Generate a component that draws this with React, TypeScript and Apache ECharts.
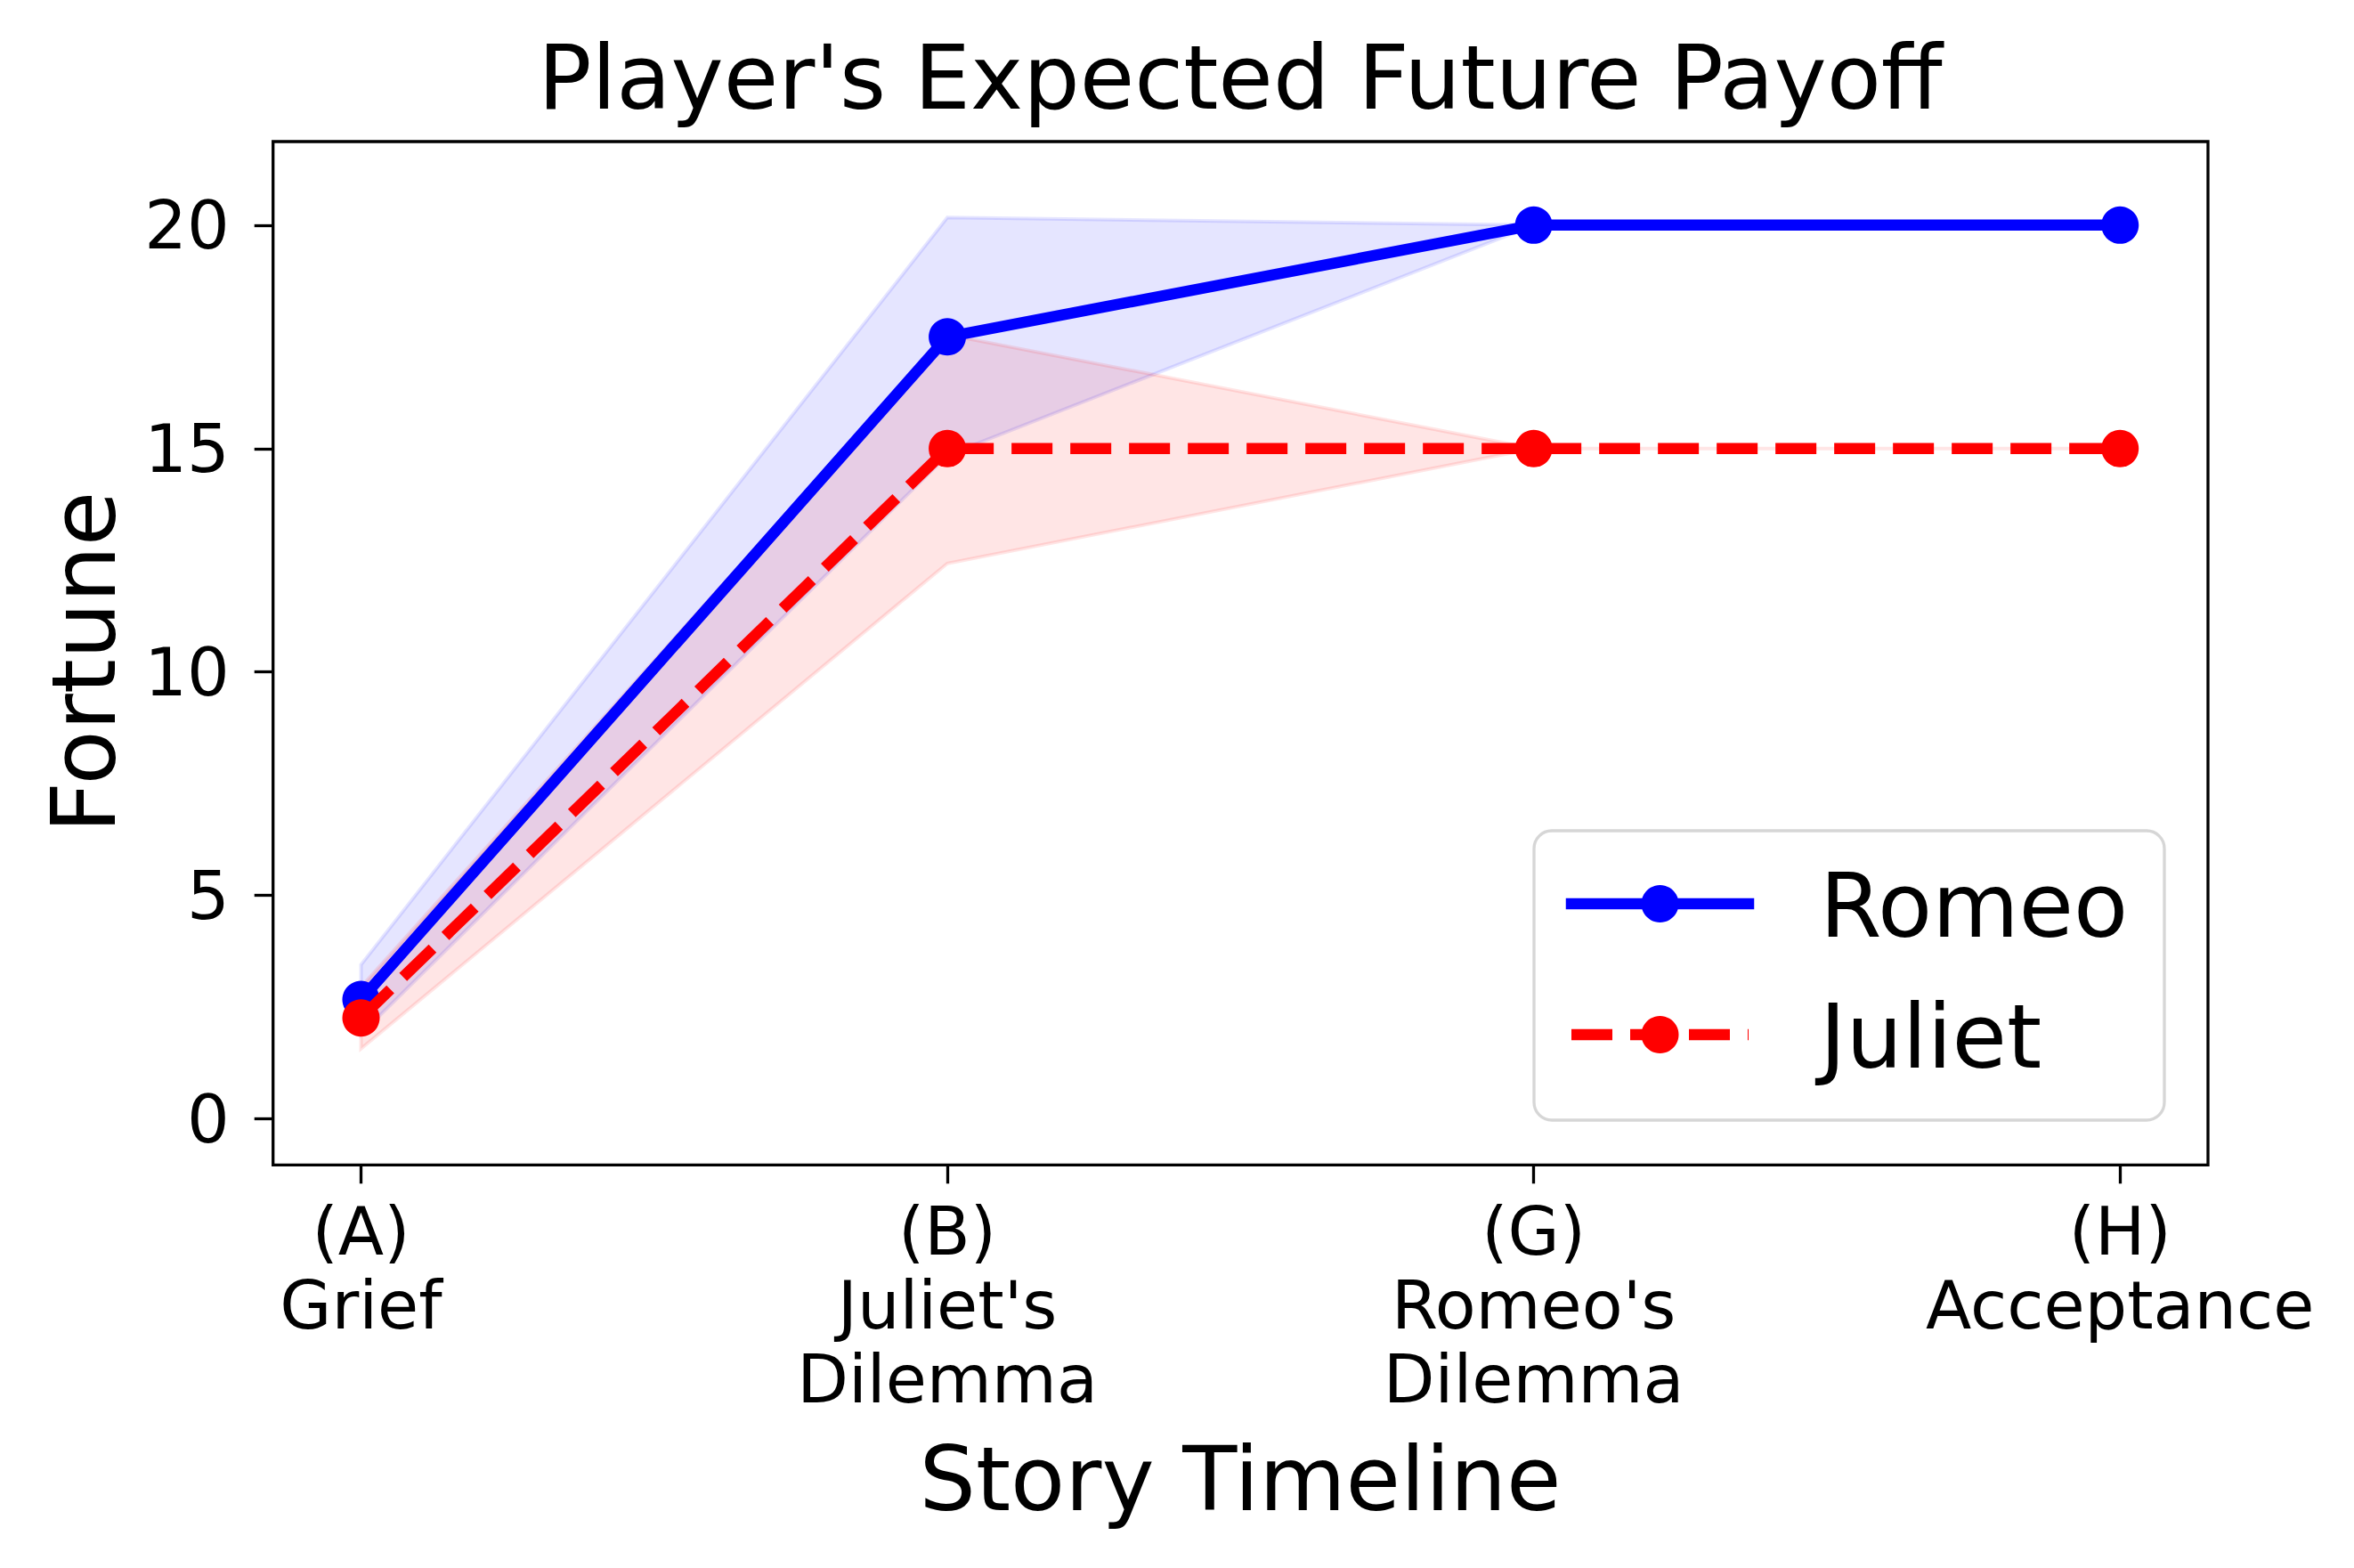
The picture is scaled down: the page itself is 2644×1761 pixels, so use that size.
import React, { useEffect, useRef } from "react";
import * as echarts from "echarts";

const categories = ["(A)\nGrief", "(B)\nJuliet's\nDilemma", "(G)\nRomeo's\nDilemma", "(H)\nAcceptance"];
const xPositions = [0, 1, 2, 3];
const romeo = [2.67, 17.5, 20, 20];
const romeoLower = [1.9, 14.85, 20, 20];
const romeoUpper = [3.45, 20.17, 20, 20];
const juliet = [2.26, 15, 15, 15];
const julietLower = [1.57, 12.43, 15, 15];
const julietUpper = [2.95, 17.55, 15, 15];
const yTicks = [0, 5, 10, 15, 20];
const seriesNames = ["Romeo", "Juliet"];

const FONT = "DejaVu Sans";

function bandSeries(name: string, lower: number[], upper: number[], color: string, z: number) {
  return {
    type: "custom",
    name,
    z,
    silent: true,
    data: xPositions.map((x, i) => [x, upper[i]]),
    encode: { x: 0, y: 1 },
    renderItem: (params: any, api: any) => {
      if (params.dataIndex !== 0) return null;
      const pts: number[][] = [];
      for (let i = 0; i < xPositions.length; i++) pts.push(api.coord([xPositions[i], upper[i]]));
      for (let i = xPositions.length - 1; i >= 0; i--) pts.push(api.coord([xPositions[i], lower[i]]));
      return {
        type: "polygon",
        shape: { points: pts },
        style: { fill: color, stroke: color, lineWidth: 4 },
      };
    },
  };
}

export default function App() {
  const ref = useRef<HTMLDivElement>(null);
  useEffect(() => {
    if (!ref.current) return;
    const chart = echarts.init(ref.current, null, { renderer: "svg" });
    const gridLeft = 306.7;
    const gridTop = 159;
    const gridRight = 2480;
    const gridBottom = 1308.3;
    const legendX = 1765;
    const legendX2 = 1964;
    const legendMid = 1864.5;
    const rowY = [1015, 1162];
    const option: any = {
      animation: false,
      backgroundColor: "#ffffff",
      grid: {
        left: gridLeft,
        top: gridTop,
        width: gridRight - gridLeft,
        height: gridBottom - gridTop,
        show: true,
        borderColor: "#000000",
        borderWidth: 3.3,
        backgroundColor: "transparent",
      },
      xAxis: {
        type: "value",
        position: "bottom",
        min: -0.15,
        max: 3.15,
        axisLine: { show: false, onZero: false },
        splitLine: { show: false },
        axisTick: { show: true, customValues: xPositions, length: 21, inside: false, lineStyle: { color: "#000", width: 3.3 } },
        axisLabel: {
          customValues: xPositions,
          formatter: (v: number) => categories[Math.round(v)] ?? "",
          fontFamily: FONT,
          fontSize: 75,
          lineHeight: 83,
          color: "#000",
          margin: 33,
          align: "center",
        },
      },
      yAxis: {
        type: "value",
        position: "left",
        min: -1.03,
        max: 21.87,
        axisLine: { show: false, onZero: false },
        splitLine: { show: false },
        axisTick: { show: true, customValues: yTicks, length: 21, inside: false, lineStyle: { color: "#000", width: 3.3 } },
        axisLabel: {
          customValues: yTicks,
          formatter: (v: number) => String(v),
          fontFamily: FONT,
          fontSize: 75,
          color: "#000",
          margin: 49,
        },
      },
      series: [
        bandSeries("Romeo band", romeoLower, romeoUpper, "rgba(0,0,255,0.1)", 1),
        bandSeries("Juliet band", julietLower, julietUpper, "rgba(255,0,0,0.1)", 2),
        {
          type: "line",
          name: seriesNames[0],
          z: 3,
          data: xPositions.map((x, i) => [x, romeo[i]]),
          symbol: "circle",
          symbolSize: 42,
          itemStyle: { color: "#0000ff" },
          lineStyle: { color: "#0000ff", width: 12.5, cap: "square" },
        },
        {
          type: "line",
          name: seriesNames[1],
          z: 4,
          data: xPositions.map((x, i) => [x, juliet[i]]),
          symbol: "circle",
          symbolSize: 42,
          itemStyle: { color: "#ff0000" },
          lineStyle: { color: "#ff0000", width: 12.5, type: [46, 20], cap: "butt" },
        },
      ],
      graphic: [
        {
          type: "text",
          x: 1393,
          y: 87,
          style: { text: "Player's Expected Future Payoff", font: `100px "${FONT}"`, fill: "#000", textAlign: "center", textVerticalAlign: "middle" },
        },
        {
          type: "text",
          x: 1393,
          y: 1661,
          style: { text: "Story Timeline", font: `100px "${FONT}"`, fill: "#000", textAlign: "center", textVerticalAlign: "middle" },
        },
        {
          type: "text",
          x: 94.5,
          y: 743.5,
          rotation: Math.PI / 2,
          style: { text: "Fortune", font: `100px "${FONT}"`, fill: "#000", textAlign: "center", textVerticalAlign: "middle" },
        },
        {
          type: "rect",
          z: 100,
          shape: { x: 1723, y: 933, width: 708, height: 325, r: 20 },
          style: { fill: "rgba(255,255,255,0.8)", stroke: "rgba(204,204,204,0.8)", lineWidth: 3.3 },
        },
        {
          type: "line",
          z: 101,
          shape: { x1: legendX, y1: rowY[0], x2: legendX2, y2: rowY[0] },
          style: { stroke: "#0000ff", lineWidth: 12.5, lineCap: "square" },
        },
        {
          type: "circle",
          z: 102,
          shape: { cx: legendMid, cy: rowY[0], r: 21 },
          style: { fill: "#0000ff" },
        },
        {
          type: "line",
          z: 101,
          shape: { x1: legendX, y1: rowY[1], x2: legendX2, y2: rowY[1] },
          style: { stroke: "#ff0000", lineWidth: 12.5, lineCap: "butt", lineDash: [46, 20] },
        },
        {
          type: "circle",
          z: 102,
          shape: { cx: legendMid, cy: rowY[1], r: 21 },
          style: { fill: "#ff0000" },
        },
        {
          type: "text",
          z: 102,
          x: 2044,
          y: rowY[0] + 2,
          style: { text: seriesNames[0], font: `100px "${FONT}"`, fill: "#000", textAlign: "left", textVerticalAlign: "middle" },
        },
        {
          type: "text",
          z: 102,
          x: 2044,
          y: rowY[1] + 2,
          style: { text: seriesNames[1], font: `100px "${FONT}"`, fill: "#000", textAlign: "left", textVerticalAlign: "middle" },
        },
      ],
    };
    chart.setOption(option);
    return () => chart.dispose();
  }, []);
  return <div ref={ref} style={{ position: "absolute", left: 0, top: 0, width: 2644, height: 1761 }} />;
}
